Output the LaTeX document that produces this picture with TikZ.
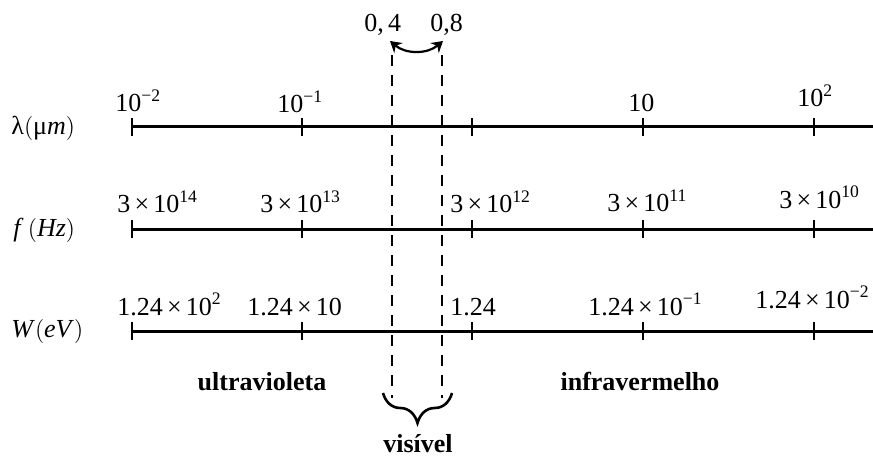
\documentclass[tikz,border=0pt]{standalone}
\usepackage{fontspec}
\setmainfont{Liberation Serif}
\usepackage{tikz}
\usetikzlibrary{arrows.meta, decorations.pathreplacing, positioning}

\newcommand{\mul}{\hspace{0.16em}×\hspace{0.16em}}
\newcommand{\tp}[1]{10\raisebox{0.42em}{\fontsize{8.8}{10}\selectfont #1}}

\tikzset{
    axisline/.style={line width=1.5pt},
    tickmark/.style={line width=1.4pt},
    ticklabel/.style={
        anchor=base west, inner sep=0pt,
        font=\fontsize{13}{15}\selectfont
    },
    quantity/.style={
        anchor=west, inner sep=0pt,
        font=\fontsize{13}{15}\selectfont
    },
    region/.style={
        anchor=base, inner sep=0pt,
        font=\fontsize{13}{16}\selectfont\bfseries
    },
    limitline/.style={line width=1.4pt, dash pattern=on 5.5pt off 4.5pt},
    bendarrow/.style={
        line width=1.1pt,
        {Stealth[length=5.5pt,width=6.5pt]}-{Stealth[length=5.5pt,width=6.5pt]}
    },
    bracemark/.style={
        line width=1.3pt, decorate,
        decoration={brace, mirror, amplitude=15pt}
    }
}

\begin{document}
\begin{tikzpicture}[x=0.5pt, y=-0.5pt]
    \useasboundingbox (0,0) rectangle (873,460);

    % the three scales
    \foreach \row/\y in {lam/127, freq/229, ener/331} {
        \coordinate (\row-end) at (873,\y);
        \foreach \x [count=\i] in {132,302,472,643,814} {
            \coordinate (\row-\i) at (\x,\y);
            \draw[tickmark] ([yshift=4.5pt]\row-\i) -- ([yshift=-4.5pt]\row-\i);
        }
        \draw[axisline] (\row-1) -- (\row-end);
    }

    \node[quantity] (lamname) at (11,128) {λ$\bigl($μ\textit{m}$\bigr)$};
    \node[quantity] (freqname) at (13,230) {\textit{f}\,$\bigl($\textit{Hz}$\bigr)$};
    \node[quantity] (enername) at (11,331) {\textit{W}$\bigl($\textit{eV}$\bigr)$};

    \node[ticklabel] (lam-l1) at (115,112) {\tp{−2}};
    \node[ticklabel] (lam-l2) at (277,113) {\tp{−1}};
    \node[ticklabel] (lam-l4) at (628,112) {10};
    \node[ticklabel] (lam-l5) at (797,107) {\tp{2}};

    \node[ticklabel] (freq-l1) at (117,213) {3\mul\tp{14}};
    \node[ticklabel] (freq-l2) at (260,213) {3\mul\tp{13}};
    \node[ticklabel] (freq-l3) at (450,213) {3\mul\tp{12}};
    \node[ticklabel] (freq-l4) at (607,212) {3\mul\tp{11}};
    \node[ticklabel] (freq-l5) at (779,208) {3\mul\tp{10}};

    \node[ticklabel] (ener-l1) at (117,315) {1.24\mul\tp{2}};
    \node[ticklabel] (ener-l2) at (247,315) {1.24\mul 10};
    \node[ticklabel] (ener-l3) at (450,315) {1.24};
    \node[ticklabel] (ener-l4) at (588,315) {1.24\mul\tp{−1}};
    \node[ticklabel] (ener-l5) at (755,308) {1.24\mul\tp{−2}};

    % visible band
    \coordinate (vis-lt) at (392,55);
    \coordinate (vis-lb) at (392,398);
    \coordinate (vis-rt) at (442,55);
    \coordinate (vis-rb) at (442,398);
    \draw[limitline] (vis-lt) -- (vis-lb);
    \draw[limitline] (vis-rt) -- (vis-rb);

    \node[ticklabel] (low) at (364,32) {0,\,4};
    \node[ticklabel] (high) at (430,32) {0,8};
    \coordinate (arc-l) at (390,41);
    \coordinate (arc-r) at (443,41);
    \draw[bendarrow] (arc-l) to[bend right=40] (arc-r);

    \coordinate (brace-l) at (383,393);
    \coordinate (brace-r) at (452,393);
    \draw[bracemark] (brace-l) -- (brace-r);

    \node[region] (uv) at (262,390) {ultravioleta};
    \node[region] (ir) at (640,390) {infravermelho};
    \node[region] (vis) at (418,452) {visível};
\end{tikzpicture}
\end{document}
